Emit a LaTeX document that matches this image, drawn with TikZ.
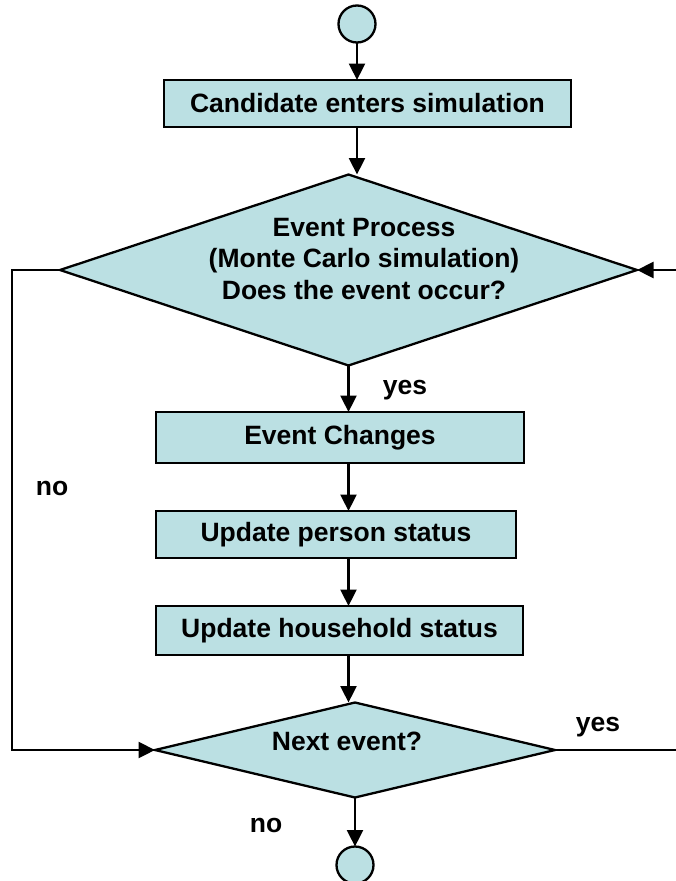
\documentclass[tikz,border=0pt]{standalone}
\usepackage{fontspec}
\setmainfont{Liberation Sans}
\usetikzlibrary{shapes.geometric,arrows.meta}
\definecolor{boxfill}{HTML}{BBE0E3}
\begin{document}
\begin{tikzpicture}[x=1pt,y=-1pt,
  every node/.style={font=\fontsize{26.5}{31.5}\selectfont\bfseries},
  stepbox/.style={draw=black,line width=2.3pt,fill=boxfill,rectangle,inner sep=0pt,outer sep=0pt},
  decision/.style={draw=black,line width=2.3pt,fill=boxfill,diamond,inner sep=0pt,outer sep=0pt},
  terminal/.style={draw=black,line width=2.3pt,fill=boxfill,circle,inner sep=0pt,outer sep=0pt,minimum size=37pt},
  plain/.style={inner sep=0pt,align=center},
  link/.style={line width=2.3pt,draw=black},
  arr/.style={link,-{Triangle[length=16.5pt,width=16pt]}}]
\useasboundingbox (0,0) rectangle (675,881);

% start and end terminals
\node[terminal] (start) at (357,24) {};
\node[terminal] (stop) at (355,865) {};

% process boxes
\node[stepbox,minimum width=407pt,minimum height=47pt] (enter) at (367.5,103.5) {};
\node[plain] (entertxt) at (367.5,103.5) {Candidate enters simulation};

\node[stepbox,minimum width=368pt,minimum height=51pt] (change) at (340,437.5) {};
\node[plain] (changetxt) at (340,437.5) {Event Changes};

\node[stepbox,minimum width=360pt,minimum height=47pt] (person) at (336,534.5) {};
\node[plain] (persontxt) at (336,534.5) {Update person status};

\node[stepbox,minimum width=367pt,minimum height=49pt] (house) at (339.5,630.5) {};
\node[plain] (housetxt) at (339.5,630.5) {Update household status};

% decisions
\node[decision,minimum width=577pt,minimum height=191pt] (event) at (348.5,270) {};
\node[plain] (eventtxt) at (364,259) {Event Process\\(Monte Carlo simulation)\\Does the event occur?};

\node[decision,minimum width=400pt,minimum height=95pt] (next) at (355,750) {};
\node[plain] (nexttxt) at (347,741) {Next event?};

% branch labels
\node[plain] (yes1) at (405,390) {yes};
\node[plain] (no1) at (52,488) {no};
\node[plain] (yes2) at (598,727) {yes};
\node[plain] (no2) at (266,825) {no};

% loop-back corners
\coordinate (leftcol) at (12,0);
\coordinate (rightcol) at (679,0);

% main flow
\draw[arr] (start.south) -- (start.south |- enter.north);
\draw[arr] (enter.south -| start.south) -- (event.north -| start.south);
\draw[arr] (event.south) -- (event.south |- change.north);
\draw[arr] (change.south -| event.south) -- (person.north -| event.south);
\draw[arr] (person.south -| event.south) -- (house.north -| event.south);
\draw[arr] (house.south -| event.south) -- (next.north -| event.south);
\draw[arr] (next.south) -- (stop.north);

% "no" branch back to the next-event test
\draw[arr] (event.west) -- (leftcol |- event.west) -- (leftcol |- next.west) -- (next.west);
% "yes" branch back to the event process
\draw[arr] (next.east) -- (rightcol |- next.east) -- (rightcol |- event.east) -- (event.east);
\end{tikzpicture}
\end{document}
